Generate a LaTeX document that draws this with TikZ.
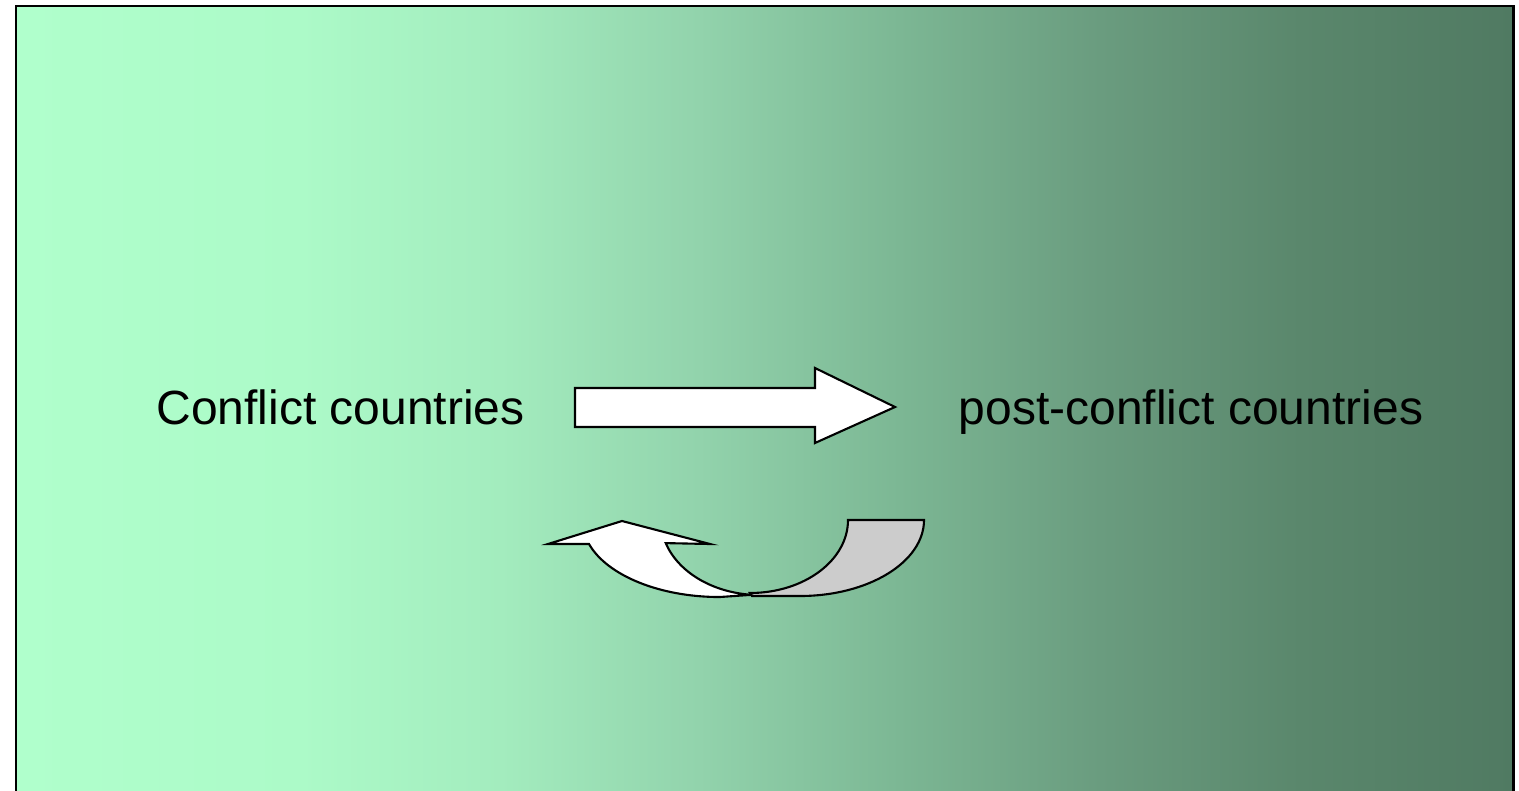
\documentclass[tikz,border=0pt]{standalone}
\usepackage{fontspec}
\setmainfont{Liberation Sans}
\definecolor{fadeA}{RGB}{176,255,204}
\definecolor{fadeB}{RGB}{172,250,200}
\definecolor{fadeC}{RGB}{163,236,190}
\definecolor{fadeD}{RGB}{146,211,172}
\definecolor{fadeE}{RGB}{124,183,148}
\definecolor{fadeF}{RGB}{106,156,127}
\definecolor{fadeG}{RGB}{90,135,108}
\definecolor{fadeH}{RGB}{80,122,98}
\definecolor{backface}{RGB}{204,204,204}
% background runs left to right over the frame
\pgfdeclarehorizontalshading{bgfade}{100bp}{color(0bp)=(fadeA); color(25bp)=(fadeA);
  color(34.5bp)=(fadeB); color(41.2bp)=(fadeC); color(47.8bp)=(fadeD);
  color(54.5bp)=(fadeE); color(61.2bp)=(fadeF); color(67.9bp)=(fadeG);
  color(75bp)=(fadeH); color(100bp)=(fadeH)}
\begin{document}
\begin{tikzpicture}[x=0.01cm, y=0.01cm,
    lbl/.style={font=\fontsize{13.65pt}{16pt}\selectfont, inner sep=0pt, anchor=base},
    blockarrow/.style={draw=black, line width=0.6pt, fill=white, line join=miter},
    frame/.style={draw=black, line width=0.85pt}]
    \useasboundingbox (0,0) rectangle (1519,790);
    \clip (0,0) rectangle (1519,790);
    \shade[shading=bgfade] (16,-10) rectangle (1513,784);
    \draw[frame] (16,-10) -- (16,784) -- (1513,784) -- (1513,-10);
    % the two labels
    \node[lbl] (conf) at (340.5,366) {Conflict countries};
    \node[lbl] (post) at (1191,366) {post-conflict countries};
    % straight block arrow
    \draw[blockarrow] (575,402) -- (815,402) -- (815,422) -- (895,383)
        -- (815,347) -- (815,363) -- (575,363) -- cycle;
    % curved arrow back, grey back face first
    \draw[blockarrow, fill=backface] (752,194) -- (800,194)
        arc[start angle=270, end angle=360, x radius=124, y radius=76]
        -- (848,270) arc[start angle=0, end angle=-90, x radius=98, y radius=73]
        -- cycle;
    \draw[blockarrow] (548,246) -- (589,246)
        arc[start angle=197.6, end angle=270, x radius=137, y radius=76]
        -- (752,195.2) arc[start angle=265.4, end angle=197.9, x radius=99, y radius=75]
        -- (710,246) -- (622,269) -- cycle;
\end{tikzpicture}
\end{document}
